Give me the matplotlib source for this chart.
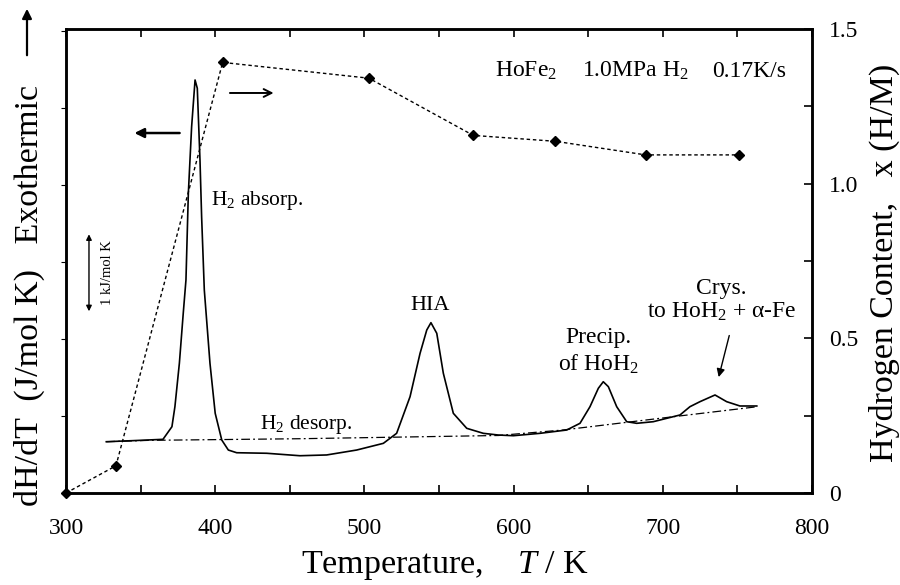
import matplotlib
matplotlib.use("Agg")
import matplotlib.pyplot as plt
from matplotlib.ticker import MultipleLocator

plt.rcParams['font.family'] = ['Liberation Serif', 'DejaVu Serif']
plt.rcParams['mathtext.fontset'] = 'custom'
plt.rcParams['mathtext.rm'] = 'Liberation Serif'
plt.rcParams['mathtext.it'] = 'Liberation Serif:italic'

# DSC trace: temperature (K) and dH/dT (kJ/mol K, arbitrary offset)
temp_dsc = [327, 345, 365, 371, 373, 376, 378.6, 380.4, 382, 384.2, 386.5, 388,
            389.8, 390.9, 392.7, 396.5, 400, 404.4, 408.8, 414.4, 434.5, 456.8,
            474.7, 494.8, 512.7, 521.6, 530.6, 537.3, 541.8, 544.6, 548.5, 552.9,
            559.6, 568.6, 579.7, 589.7, 599.8, 617.7, 635.6, 644.5, 651.2, 656.8,
            660.1, 663.5, 669.1, 675.8, 682.5, 693.6, 711.5, 718.2, 724.9, 735,
            742.8, 751.7, 763]
dsc = [0.666, 0.68, 0.697, 0.861, 1.121, 1.688, 2.338, 2.766, 3.892, 4.757, 5.364, 5.256,
       4.325, 3.588, 2.636, 1.684, 1.035, 0.688, 0.558, 0.523, 0.516, 0.484,
       0.494, 0.558, 0.645, 0.775, 1.251, 1.814, 2.117, 2.212, 2.074, 1.555,
       1.035, 0.840, 0.775, 0.753, 0.744, 0.775, 0.818, 0.905, 1.121, 1.360,
       1.445, 1.381, 1.121, 0.926, 0.905, 0.926, 1.013, 1.121, 1.186, 1.273,
       1.186, 1.130, 1.130]

# baseline (dash-dot)
temp_base = [327, 356, 457, 590, 633, 711, 763]
base = [0.666, 0.684, 0.705, 0.747, 0.818, 1.0, 1.12]

# hydrogen content x (H/M)
temp_h = [300, 333.5, 405, 503, 573, 628, 688.5, 751]
h_content = [0.0, 0.088, 1.392, 1.341, 1.156, 1.137, 1.093, 1.093]

x_ticks = [300, 400, 500, 600, 700, 800]
h_ticks = [0, 0.5, 1.0, 1.5]
h_tick_labels = ['0', '0.5', '1.0', '1.5']

fig = plt.figure(figsize=(9, 5.85), dpi=100)
ax = fig.add_axes([66 / 900, 1 - 493 / 585, 746 / 900, 464 / 585])

ax.plot(temp_dsc, dsc, color='black', lw=1.2)
ax.plot(temp_base, base, color='black', lw=0.9, ls=(0, (7, 2.5, 1.5, 2.5)))

ax.set_xlim(300, 800)
ax.set_ylim(0, 464 / 77)
ax.set_xticks(x_ticks)
ax.xaxis.set_minor_locator(MultipleLocator(50))
ax.tick_params(axis='x', which='both', direction='in', top=True, length=6,
               width=1.2, labelsize=17, pad=18)
ax.tick_params(axis='y', which='both', left=False, labelleft=False)
for sp in ax.spines.values():
    sp.set_linewidth(1.8)

ax2 = ax.twinx()
ax2.plot(temp_h, h_content, color='black', lw=1.0, ls=(0, (2.5, 2)),
         marker='D', ms=5.5, clip_on=False)
ax2.set_ylim(0, 1.5)
ax2.set_yticks(h_ticks)
ax2.set_yticklabels(h_tick_labels)
ax2.yaxis.set_minor_locator(MultipleLocator(0.25))
ax2.tick_params(axis='y', which='both', direction='in', length=6, width=1.2,
                labelsize=17, pad=12)
for sp in ax2.spines.values():
    sp.set_linewidth(1.8)

# annotations
ax.text(587.5, 5.48, r'HoFe$_\mathrm{2}$', fontsize=17, va='center')
ax.text(645.8, 5.48, r'1.0MPa H$_\mathrm{2}$', fontsize=17, va='center')
ax.text(733, 5.48, '0.17K/s', fontsize=17, va='center')
ax.text(397.5, 3.8, r'H$_\mathrm{2}$ absorp.', fontsize=15.5, va='center')
ax.text(544, 2.43, 'HIA', fontsize=16, ha='center', va='center')
ax.text(430, 0.89, r'H$_\mathrm{2}$ desorp.', fontsize=15.5, va='center')
ax.text(656.6, 2.02, 'Precip.', fontsize=17, ha='center', va='center')
ax.text(656.6, 1.67, r'of HoH$_\mathrm{2}$', fontsize=17, ha='center', va='center')
ax.text(739, 2.66, 'Crys.', fontsize=17, ha='center', va='center')
ax.text(739.5, 2.35, r'to HoH$_\mathrm{2}$ + α-Fe', fontsize=17, ha='center', va='center')

ax.annotate('', xy=(737, 1.47), xytext=(745, 2.08),
            arrowprops=dict(arrowstyle='-|>', color='black', lw=1.0, mutation_scale=12))
ax.annotate('', xy=(344, 4.675), xytext=(378, 4.675),
            arrowprops=dict(arrowstyle='-|>', color='black', lw=1.8, mutation_scale=14))
ax.annotate('', xy=(441, 5.195), xytext=(408, 5.195),
            arrowprops=dict(arrowstyle='->', color='black', lw=1.4, mutation_scale=14))

# 1 kJ/mol K scale bar
ax.annotate('', xy=(315.4, 3.36), xytext=(315.4, 2.36),
            arrowprops=dict(arrowstyle='<|-|>', color='black', lw=1.0,
                            mutation_scale=8, shrinkA=0, shrinkB=0))
ax.text(327.5, 2.86, '1 kJ/mol K', fontsize=10.5, rotation=90, ha='center', va='center')

# axis titles
fig.text(445 / 900, 1 - 566 / 585, r'Temperature,    $T$ / K', fontsize=24.5,
         ha='center', va='center')
fig.text(29 / 900, 1 - 296 / 585, 'dH/dT  (J/mol K)   Exothermic', fontsize=24.5,
         rotation=90, ha='center', va='center')
ax.annotate('', xy=(27 / 900, 1 - 6 / 585), xytext=(27 / 900, 1 - 58 / 585),
            xycoords='figure fraction', textcoords='figure fraction',
            annotation_clip=False,
            arrowprops=dict(arrowstyle='-|>', color='black', lw=1.6, mutation_scale=14))
fig.text(884 / 900, 1 - 263 / 585, 'Hydrogen Content,   x (H/M)', fontsize=24.5,
         rotation=90, ha='center', va='center')

fig.savefig('out.png', dpi=100)
